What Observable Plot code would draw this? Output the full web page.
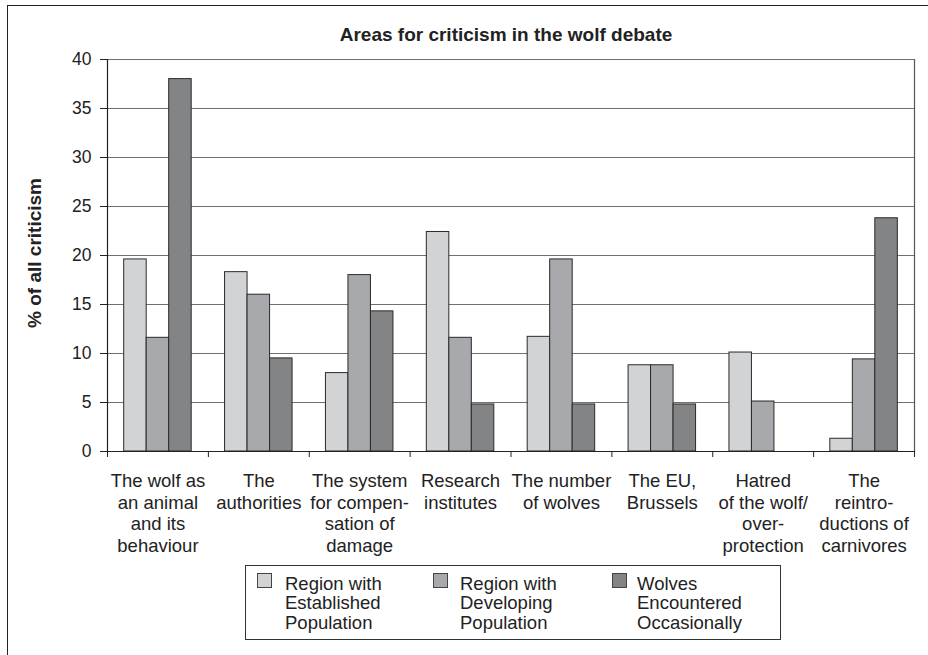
<!DOCTYPE html>
<html>
<head>
<meta charset="utf-8">
<script src="https://cdn.jsdelivr.net/npm/d3@7"></script>
<script src="https://cdn.jsdelivr.net/npm/@observablehq/plot@0.6"></script>
<style>
  body { margin: 0; background: #fff; font-family: "Liberation Sans", Arial, sans-serif; color: #222; }
  #wrap { position: relative; width: 928px; height: 655px; overflow: hidden; background: #fff; }
  #border { position: absolute; left: 7px; top: 5px; width: 1000px; height: 700px; border-top: 1.5px solid #222; border-left: 1.5px solid #222; }
  #chart { position: absolute; left: 0; top: 0; }
  #title { position: absolute; left: 0; width: 1012px; top: 25px; text-align: center; font-weight: bold; font-size: 19px; line-height: 19px; white-space: nowrap; }
  #ylabel { position: absolute; left: 34.5px; top: 253px; transform: translate(-50%, -50%) rotate(-90deg); font-weight: bold; font-size: 19px; white-space: nowrap; }
  #legend { position: absolute; left: 245px; top: 565px; width: 534px; height: 73px; border: 1px solid #333; background: #fff; }
  .sw { position: absolute; width: 13px; height: 13px; border: 1px solid #444; top: 7px; }
  .lt { position: absolute; top: 8px; font-size: 18.5px; line-height: 19.3px; white-space: nowrap; }
</style>
</head>
<body>
<div id="wrap">
  <div id="border"></div>
  <div id="chart"></div>
  <div id="title"></div>
  <div id="ylabel"></div>
  <div id="legend"></div>
</div>
<script>
// ---- data ----
const title = "Areas for criticism in the wolf debate";
const yLabel = "% of all criticism";
const categories = ["wolf", "authorities", "compensation", "research", "number", "eu", "hatred", "reintroductions"];
const categoryLabels = [
  "The wolf as\nan animal\nand its\nbehaviour",
  "The\nauthorities",
  "The system\nfor compen-\nsation of\ndamage",
  "Research\ninstitutes",
  "The number\nof wolves",
  "The EU,\nBrussels",
  "Hatred\nof the wolf/\nover-\nprotection",
  "The\nreintro-\nductions of\ncarnivores"
];
const seriesNames = [
  "Region with\nEstablished\nPopulation",
  "Region with\nDeveloping\nPopulation",
  "Wolves\nEncountered\nOccasionally"
];
const established = [19.6, 18.3, 8.0, 22.4, 11.7, 8.8, 10.1, 1.3];
const developing  = [11.6, 16.0, 18.0, 11.6, 19.6, 8.8, 5.1, 9.4];
const occasional  = [38.0, 9.5, 14.3, 4.8, 4.8, 4.8, 0, 23.8];
const yTicks = [0, 5, 10, 15, 20, 25, 30, 35, 40];
const seriesColors = ["#d2d3d5", "#a8a9ac", "#838486"];

// ---- layout ----
const W = 928, H = 560;
const mL = 107, mR = 14, mT = 59, mB = 109;
const band = (W - mL - mR) / categories.length;
const barW = 22.5;
const outer = (band - 3 * barW) / 2;

const series = [established, developing, occasional];
const labelOf = new Map(categories.map((c, i) => [c, categoryLabels[i]]));

const barMarks = series.map((vals, k) =>
  Plot.barY(categories.map((c, i) => ({category: c, value: vals[i]})), {
    x: "category",
    y: "value",
    fill: seriesColors[k],
    stroke: "#2a2a2a",
    strokeWidth: 1,
    insetLeft: outer + barW * k,
    insetRight: band - outer - barW * (k + 1)
  })
);

const chart = Plot.plot({
  width: W,
  height: H,
  marginTop: mT,
  marginLeft: mL,
  marginRight: mR,
  marginBottom: mB,
  style: {fontFamily: "'Liberation Sans', Arial, sans-serif", color: "#222", background: "transparent", overflow: "visible"},
  x: {domain: categories, padding: 0, round: false, label: null},
  y: {domain: [0, 40], label: null},
  marks: [
    Plot.gridY(yTicks, {stroke: "#707070", strokeOpacity: 1, strokeWidth: 1.2}),
    ...barMarks,
    Plot.frame({anchor: "left", stroke: "#222", strokeWidth: 1.2}),
    Plot.frame({anchor: "right", stroke: "#555", strokeWidth: 1.2}),
    Plot.ruleY([0], {stroke: "#222", strokeWidth: 1.2}),
    Plot.axisY(yTicks, {tickSize: 7, tickPadding: 9, fontSize: 17.5, label: null, stroke: "#222"}),
    Plot.axisX(categories, {tickSize: 0, tickPadding: 20, fontSize: 18.5, lineHeight: 1.17, tickFormat: c => labelOf.get(c), label: null}),
    Plot.axisX(categories, {tickSize: 6, text: null, dx: -band / 2, label: null, stroke: "#222"}),
    Plot.axisX(categories.slice(-1), {tickSize: 6, text: null, dx: band / 2, label: null, stroke: "#222"})
  ]
});
document.getElementById("chart").appendChild(chart);

document.getElementById("title").textContent = title;
document.getElementById("ylabel").textContent = yLabel;

// legend
const legend = document.getElementById("legend");
const swLeft = [11, 187, 366];
const txLeft = [39, 214, 391];
seriesNames.forEach((name, k) => {
  const sw = document.createElement("div");
  sw.className = "sw";
  sw.style.left = swLeft[k] + "px";
  sw.style.background = seriesColors[k];
  legend.appendChild(sw);
  const t = document.createElement("div");
  t.className = "lt";
  t.style.left = txLeft[k] + "px";
  t.innerHTML = name.split("\n").join("<br>");
  legend.appendChild(t);
});
</script>
</body>
</html>
